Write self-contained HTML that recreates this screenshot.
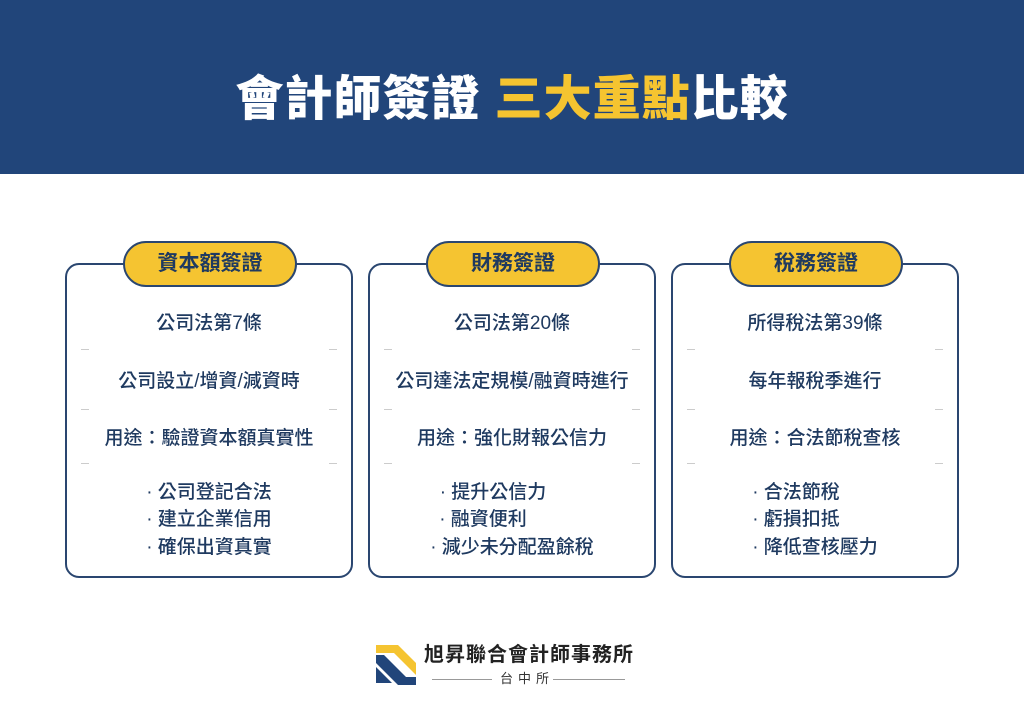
<!DOCTYPE html>
<html><head><meta charset="utf-8"><style>
body{margin:0;width:1024px;height:724px;background:#fff;position:relative;overflow:hidden;font-family:"Liberation Sans","Noto Sans CJK TC",sans-serif;color:#1f3a60}
.hdr{position:absolute;left:0;top:0;width:1024px;height:174px;background:#21457a}
.hdr h1{margin:0;position:absolute;top:68px;width:100%;text-align:center;font-size:48px;font-weight:900;color:#fff;line-height:64px;letter-spacing:1px}
.hdr h1 span{color:#f5c430}
.card{position:absolute;top:263px;width:288px;height:315px;border:2px solid #2a4670;border-radius:14px;box-sizing:border-box}
.pill{position:absolute;top:-24px;left:56px;width:174px;height:46px;background:#f5c431;border:2px solid #2a4670;border-radius:23px;box-sizing:border-box;text-align:center;font-size:21px;font-weight:700;line-height:42px;color:#1f3a60}
.t{position:absolute;left:0;width:100%;text-align:center;font-size:19px;font-weight:500;line-height:20px}
.sep{position:absolute;width:8px;height:1px;background:#ccc}
</style></head><body>
<div class="hdr"><h1>會計師簽證 <span>三大重點</span>比較</h1></div>

<div class="card" style="left:65px">
<div class="pill">資本額簽證</div>
<div class="t" style="top:49px">公司法第7條</div>
<div class="sep" style="left:14px;top:84px"></div><div class="sep" style="right:14px;top:84px"></div>
<div class="t" style="top:107px">公司設立/增資/減資時</div>
<div class="sep" style="left:14px;top:144px"></div><div class="sep" style="right:14px;top:144px"></div>
<div class="t" style="top:164px">用途：驗證資本額真實性</div>
<div class="sep" style="left:14px;top:198px"></div><div class="sep" style="right:14px;top:198px"></div>
<div class="t" style="top:218px">· 公司登記合法</div>
<div class="t" style="top:245px">· 建立企業信用</div>
<div class="t" style="top:273px">· 確保出資真實</div>
</div>

<div class="card" style="left:368px">
<div class="pill">財務簽證</div>
<div class="t" style="top:49px">公司法第20條</div>
<div class="sep" style="left:14px;top:84px"></div><div class="sep" style="right:14px;top:84px"></div>
<div class="t" style="top:107px">公司達法定規模/融資時進行</div>
<div class="sep" style="left:14px;top:144px"></div><div class="sep" style="right:14px;top:144px"></div>
<div class="t" style="top:164px">用途：強化財報公信力</div>
<div class="sep" style="left:14px;top:198px"></div><div class="sep" style="right:14px;top:198px"></div>
<div class="t" style="top:218px;left:-19px">· 提升公信力</div>
<div class="t" style="top:245px;left:-29px">· 融資便利</div>
<div class="t" style="top:273px">· 減少未分配盈餘稅</div>
</div>

<div class="card" style="left:671px">
<div class="pill">稅務簽證</div>
<div class="t" style="top:49px">所得稅法第39條</div>
<div class="sep" style="left:14px;top:84px"></div><div class="sep" style="right:14px;top:84px"></div>
<div class="t" style="top:107px">每年報稅季進行</div>
<div class="sep" style="left:14px;top:144px"></div><div class="sep" style="right:14px;top:144px"></div>
<div class="t" style="top:164px">用途：合法節稅查核</div>
<div class="sep" style="left:14px;top:198px"></div><div class="sep" style="right:14px;top:198px"></div>
<div class="t" style="top:218px;left:-19px">· 合法節稅</div>
<div class="t" style="top:245px;left:-19px">· 虧損扣抵</div>
<div class="t" style="top:273px">· 降低查核壓力</div>
</div>

<svg style="position:absolute;left:376px;top:645px" width="40" height="40" viewBox="0 0 40 40">
<polygon points="0,0 22,0 40,18 40,30 18,8 0,8" fill="#f5c431"/>
<polygon points="0,10 8,10 30,32 40,32 40,40 22,40 0,18" fill="#21457a"/>
<polygon points="0,22 16,38 0,38" fill="#21457a"/>
</svg>
<div style="position:absolute;left:424px;top:643px;font-size:20px;font-weight:700;color:#222;letter-spacing:1px;line-height:24px">旭昇聯合會計師事務所</div>
<div style="position:absolute;left:432px;top:679px;width:60px;height:1px;background:#999"></div>
<div style="position:absolute;left:553px;top:679px;width:72px;height:1px;background:#999"></div>
<div style="position:absolute;left:500px;top:670px;font-size:13px;color:#333;letter-spacing:5px;line-height:18px">台中所</div>
</body></html>
